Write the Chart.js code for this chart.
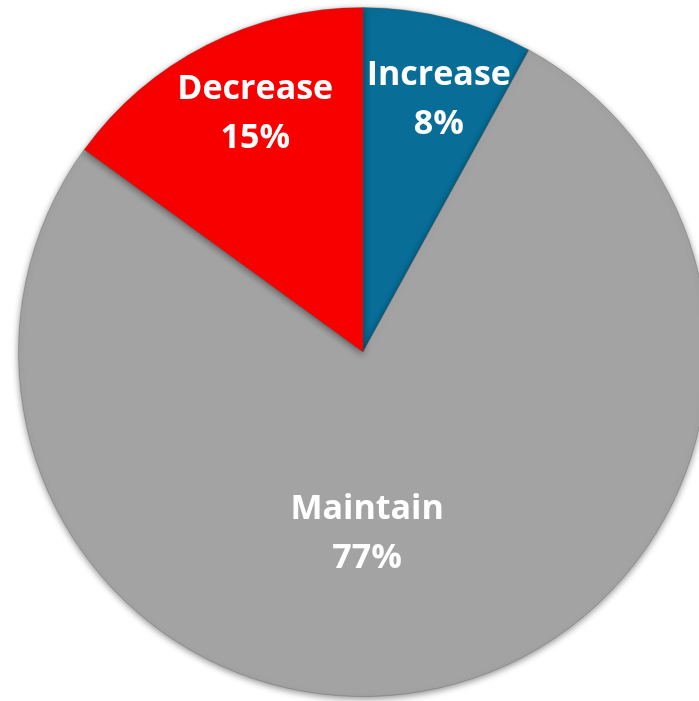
<!DOCTYPE html>
<html>
<head>
<meta charset="utf-8">
<script src="https://cdn.jsdelivr.net/npm/chart.js@4.4.1/dist/chart.umd.min.js"></script>
<style>
  html, body { margin: 0; padding: 0; background: #fff; overflow: hidden; }
  #wrap { position: relative; width: 726px; height: 701px; }
</style>
</head>
<body>
<div id="wrap"><canvas id="c"></canvas></div>
<script>
const categories = ["Increase", "Maintain", "Decrease"];
const shares = [8, 77, 15];
const shareLabels = ["8%", "77%", "15%"];

const baseColors = [
  { inner: "#0b74a2", mid: "#086e98", rim: "#055478" },
  { inner: "#a8a8a8", mid: "#a3a3a3", rim: "#7e7e7e" },
  { inner: "#ff0808", mid: "#f80000", rim: "#c00000" }
];

function sliceFill(ctx) {
  const chart = ctx.chart;
  const arc = chart.getDatasetMeta(0).data[ctx.dataIndex];
  if (!arc || !arc.outerRadius) return baseColors[ctx.dataIndex].mid;
  const c = chart.ctx;
  const r = arc.outerRadius;
  const g = c.createRadialGradient(arc.x, arc.y, 0, arc.x, arc.y, r);
  const col = baseColors[ctx.dataIndex];
  g.addColorStop(0, col.inner);
  g.addColorStop(0.85, col.mid);
  g.addColorStop(0.975, col.mid);
  g.addColorStop(1, col.rim);
  return g;
}

const shadowPlugin = {
  id: "shadow",
  beforeDatasetsDraw(chart) {
    const c = chart.ctx;
    c.save();
    c.shadowColor = "rgba(0,0,0,0.45)";
    c.shadowBlur = 7;
    c.shadowOffsetX = 0;
    c.shadowOffsetY = 2;
  },
  afterDatasetsDraw(chart) {
    chart.ctx.restore();
  }
};

const labelFrac = [0.766, 0.525, 0.76];
const labelTurn = [2.3, 11.3, 2.7];
const labelPlugin = {
  id: "sliceLabels",
  afterDraw(chart) {
    const c = chart.ctx;
    const meta = chart.getDatasetMeta(0);
    c.save();
    c.fillStyle = "#ffffff";
    c.textAlign = "center";
    c.textBaseline = "middle";
    c.font = "bold 34px 'Open Sans', 'Liberation Sans', sans-serif";
    meta.data.forEach((arc, i) => {
      const mid = (arc.startAngle + arc.endAngle) / 2 + labelTurn[i] * Math.PI / 180;
      const d = arc.outerRadius * labelFrac[i];
      const x = arc.x + Math.cos(mid) * d;
      const y = arc.y + Math.sin(mid) * d;
      c.fillText(chart.data.labels[i], x, y - 24);
      c.fillText(shareLabels[i], x, y + 25);
    });
    c.restore();
  }
};

new Chart(document.getElementById("c"), {
  type: "pie",
  data: {
    labels: categories,
    datasets: [{
      data: shares,
      backgroundColor: sliceFill,
      borderColor: "rgba(90,90,90,0.35)",
      borderWidth: 1
    }]
  },
  options: {
    responsive: true,
    maintainAspectRatio: false,
    animation: false,
    layout: { padding: { top: 7, bottom: 4, left: 0, right: 0 } },
    plugins: {
      legend: { display: false },
      tooltip: { enabled: false }
    },
    events: []
  },
  plugins: [shadowPlugin, labelPlugin]
});
</script>
</body>
</html>
